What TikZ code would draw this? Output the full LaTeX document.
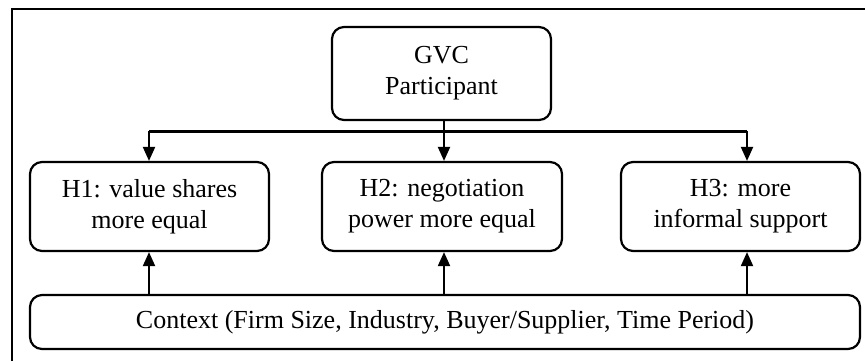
\documentclass[tikz,border=0pt]{standalone}
\usepackage{fontspec}
\setmainfont{Liberation Serif}
\usetikzlibrary{arrows.meta}
\begin{document}
\begin{tikzpicture}[x=0.5pt,y=-0.5pt,
  box/.style={draw,line width=1.1pt,rounded corners=6pt,align=center,inner sep=0pt,
    font=\fontsize{13}{15.5}\selectfont},
  conn/.style={line width=1pt,-{Triangle[length=7pt,width=6pt]}},
  bar/.style={line width=1.5pt}]
\useasboundingbox (0,0) rectangle (865,361);
\draw[line width=0.8pt] (12,361) -- (12,9) -- (865,9);
\node[box,minimum width=109.5pt,minimum height=46.5pt] (gvc) at (441.5,73.5) {GVC\\Participant};
\node[box,minimum width=119.5pt,minimum height=44.5pt] (h1) at (149.5,206.5) {H1: value shares\\more equal};
\node[box,minimum width=120pt,minimum height=44.5pt] (h2) at (442,206.5) {H2: negotiation\\power more equal};
\node[box,minimum width=119.5pt,minimum height=44.5pt] (h3) at (740.5,206.5) {H3: more\\informal support};
\node[box,minimum width=415pt,minimum height=27pt] (ctx) at (445,322) {Context (Firm Size, Industry, Buyer/Supplier, Time Period)};
\coordinate (j1) at (149,131);
\coordinate (j2) at (444,131);
\coordinate (j3) at (747,131);
\draw[bar] (j1) -- (j3);
\draw[conn] (j1) -- (h1.north -| j1);
\draw[conn] (gvc.south -| j2) -- (h2.north -| j2);
\draw[conn] (j3) -- (h3.north -| j3);
\draw[conn] (ctx.north -| j1) -- (h1.south -| j1);
\draw[conn] (ctx.north -| j2) -- (h2.south -| j2);
\draw[conn] (ctx.north -| j3) -- (h3.south -| j3);
\end{tikzpicture}
\end{document}
